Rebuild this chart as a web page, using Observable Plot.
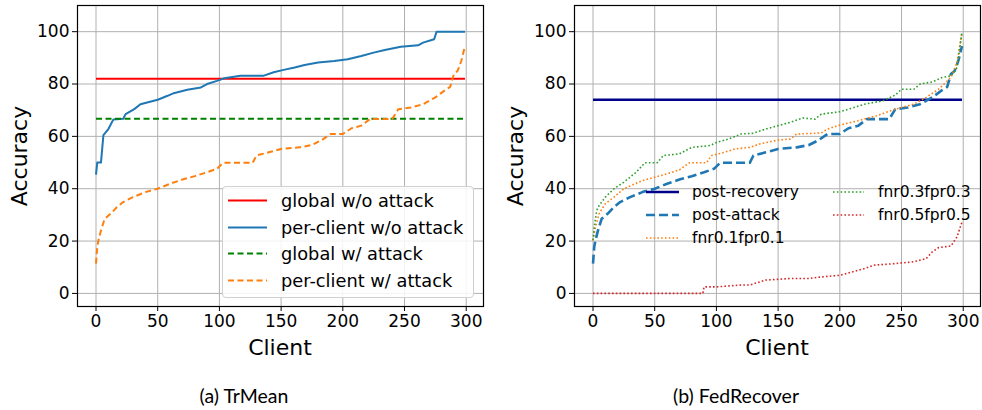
<!DOCTYPE html>
<html>
<head>
<meta charset="utf-8">
<script src="https://cdn.jsdelivr.net/npm/d3@7"></script>
<script src="https://cdn.jsdelivr.net/npm/@observablehq/plot@0.6"></script>
<style>
  html, body { margin: 0; padding: 0; background: #fff; }
  #root { position: relative; width: 982px; height: 410px; overflow: hidden; font-family: "DejaVu Sans", sans-serif; }
  .panel { position: absolute; top: 0; }
  .lbl { position: absolute; font-family: "DejaVu Sans", sans-serif; font-size: 22px; color: #000; white-space: nowrap; }
  .ylbl { transform: translate(-50%, -50%) rotate(-90deg); }
  .xlbl { transform: translate(-50%, -50%); }
  .cap { position: absolute; font-family: "Lato", sans-serif; font-size: 19.5px; transform: translate(-50%, -50%); white-space: nowrap; }
  .legbox { position: absolute; border: 1px solid #d0d0d0; border-radius: 4px; background: rgba(255,255,255,0.85); }
  .leg { position: absolute; font-family: "DejaVu Sans", sans-serif; white-space: nowrap; transform: translateY(-50%); display: flex; align-items: center; }
  .leg svg { display: block; }
</style>
</head>
<body>
<div id="root"></div>
<script>
// ---------- data ----------
const xTicks = [0, 50, 100, 150, 200, 250, 300];
const yTicks = [0, 20, 40, 60, 80, 100];
const clientFirst = 0, clientLast = 299;

// (a) TrMean
const globalNoAttack = 82;
const globalWithAttack = 66.7;
const perClientNoAttack = [
  [0,45.4],[1,50],[4,50],[6,60.5],[10,62.8],[14,66.4],[22,66.7],[24,68.5],[31,70.4],[36,72.3],
  [50,74],[58,75.5],[63,76.5],[74,77.8],[85,78.7],[90,80],[98,81.2],[104,82.2],[117,83.2],[136,83.2],
  [144,84.5],[152,85.4],[161,86.3],[169,87.3],[180,88.2],[193,88.8],[204,89.5],[215,90.7],[225,92],
  [234,93],[247,94.2],[261,94.8],[265,95.8],[274,97.1],[276,100],[299,100]
];
const perClientWithAttack = [
  [0,11.4],[1,17.8],[2,20.3],[4,24],[7,28.5],[12,30.5],[17,33],[22,34.9],[30,36.8],[40,38.7],
  [50,40],[60,41.9],[70,43.5],[80,44.8],[90,46.3],[98,47.6],[103,49.9],[127,49.9],[130,52.7],
  [140,53.9],[150,55.2],[165,55.8],[175,56.7],[183,58.6],[190,60.9],[200,60.9],[207,63.1],
  [215,64.1],[222,66.6],[240,66.6],[245,70.4],[255,71],[265,72.3],[275,74.9],[283,77.7],
  [287,78.9],[290,83.8],[293,85],[296,88.8],[299,94.5]
];

// (b) FedRecover
const postRecovery = 74;
const postAttack = perClientWithAttack;
const fnr01 = [
  [0,20.3],[2,25.4],[5,30.5],[10,34.3],[17,36.8],[25,40],[40,43.1],[50,44.4],[60,45.7],[70,47.2],
  [78,49.9],[92,49.9],[96,52.7],[105,53.7],[115,55.2],[127,55.8],[135,57.1],[150,58.6],[160,59],
  [165,60.9],[185,61.3],[190,62.8],[200,64.3],[215,66],[230,67.9],[245,70.4],[260,72.3],[270,74.9],
  [280,78],[290,82.5],[295,88.2],[299,99.6]
];
const fnr03 = [
  [0,20.3],[1,25.4],[3,31.7],[5,33.6],[10,36.8],[17,40],[25,42.5],[35,46.3],[42,49.9],[52,49.9],
  [57,52.7],[70,53.3],[80,55.8],[95,56.5],[100,57.7],[110,59],[120,60.9],[130,61.2],[140,62.8],
  [150,64.1],[160,65.4],[170,67],[180,66.6],[185,68.5],[200,69.4],[210,70.8],[220,72.3],[235,73.6],
  [245,75.8],[250,78],[260,78],[265,80],[275,80.8],[283,82.5],[290,83.1],[295,86.3],[299,100]
];
const fnr05 = [
  [0,0],[89,0],[90,2.5],[100,2.5],[120,3.2],[127,3.2],[140,5.1],[160,5.7],[175,5.7],[185,6.3],
  [200,6.9],[210,8.2],[220,9.5],[228,10.8],[245,11.4],[260,12.1],[270,13.3],[275,15.9],[280,17.5],
  [290,18.1],[295,21.6],[299,27.3]
];

const seriesA = [
  {name: "global w/o attack", color: "#ff0000", dash: null, width: 2, hline: globalNoAttack},
  {name: "per-client w/o attack", color: "#1f77b4", dash: null, width: 2, pts: perClientNoAttack},
  {name: "global w/ attack", color: "#008000", dash: "6,3.5", width: 2, hline: globalWithAttack},
  {name: "per-client w/ attack", color: "#ff7f0e", dash: "6,3.5", width: 2, pts: perClientWithAttack}
];
const seriesB = [
  {name: "post-recovery", color: "#00008b", dash: null, width: 2.6, hline: postRecovery},
  {name: "post-attack", color: "#1f77b4", dash: "9,4", width: 2.6, pts: postAttack},
  {name: "fnr0.1fpr0.1", color: "#ff7f0e", dash: "1.6,2.2", width: 1.6, pts: fnr01},
  {name: "fnr0.3fpr0.3", color: "#2ca02c", dash: "1.6,2.2", width: 1.6, pts: fnr03},
  {name: "fnr0.5fpr0.5", color: "#d62728", dash: "1.6,2.2", width: 1.6, pts: fnr05}
];

// ---------- drawing ----------
function lineMarks(series) {
  return series.map(s => {
    const data = s.hline !== undefined
      ? [[clientFirst, s.hline], [clientLast, s.hline]]
      : s.pts;
    return Plot.line(data, {
      x: d => d[0], y: d => d[1], stroke: s.color, strokeWidth: s.width,
      strokeDasharray: s.dash || undefined, strokeLinecap: "butt", strokeLinejoin: "round"
    });
  });
}

function panel(series, marginLeft, marginRight) {
  return Plot.plot({
    width: 491, height: 365,
    marginTop: 5, marginBottom: 59, marginLeft, marginRight,
    style: {fontFamily: "DejaVu Sans, sans-serif", fontSize: "17px", color: "#000", background: "transparent", overflow: "visible"},
    x: {domain: [-15, 314]},
    y: {domain: [-5, 110]},
    marks: [
      Plot.gridX(xTicks, {stroke: "#b0b0b0", strokeOpacity: 1, strokeWidth: 1}),
      Plot.gridY(yTicks, {stroke: "#b0b0b0", strokeOpacity: 1, strokeWidth: 1}),
      ...lineMarks(series),
      Plot.frame({stroke: "#000", strokeWidth: 1.2}),
      Plot.axisX(xTicks, {tickSize: 5, tickPadding: 3, label: null, fontSize: 17}),
      Plot.axisY(yTicks, {tickSize: 5, tickPadding: 3, label: null, fontSize: 17})
    ]
  });
}

const root = document.getElementById("root");

function addPanel(left, series, ml, mr) {
  const d = document.createElement("div");
  d.className = "panel";
  d.style.left = left + "px";
  d.appendChild(panel(series, ml, mr));
  root.appendChild(d);
}
addPanel(0, seriesA, 77, 8);
addPanel(491, seriesB, 83, 2);

function addText(cls, text, x, y) {
  const e = document.createElement("div");
  e.className = cls;
  e.textContent = text;
  e.style.left = x + "px";
  e.style.top = y + "px";
  root.appendChild(e);
}
addText("lbl ylbl", "Accuracy", 19, 156);
addText("lbl ylbl", "Accuracy", 515, 156);
addText("lbl xlbl", "Client", 280, 347);
addText("lbl xlbl", "Client", 777, 347);
addText("cap", "(a) TrMean", 244, 395);
addText("cap", "(b) FedRecover", 736, 395);

function sample(s, len) {
  const svgNS = "http://www.w3.org/2000/svg";
  const svg = document.createElementNS(svgNS, "svg");
  svg.setAttribute("width", len); svg.setAttribute("height", 8);
  const l = document.createElementNS(svgNS, "line");
  l.setAttribute("x1", 0); l.setAttribute("x2", len);
  l.setAttribute("y1", 4); l.setAttribute("y2", 4);
  l.setAttribute("stroke", s.color); l.setAttribute("stroke-width", s.width);
  if (s.dash) l.setAttribute("stroke-dasharray", s.dash);
  svg.appendChild(l);
  return svg;
}
function addLegendItem(s, x, y, len, gap, fs) {
  const e = document.createElement("div");
  e.className = "leg";
  e.style.left = x + "px"; e.style.top = y + "px"; e.style.fontSize = fs + "px";
  const sv = sample(s, len);
  sv.style.marginRight = gap + "px";
  e.appendChild(sv);
  const t = document.createElement("span");
  t.textContent = s.name;
  e.appendChild(t);
  root.appendChild(e);
}
// legend (a)
const box = document.createElement("div");
box.className = "legbox";
Object.assign(box.style, {left: "222px", top: "186px", width: "250px", height: "110px"});
root.appendChild(box);
const rowsA = [200, 227, 253, 280];
seriesA.forEach((s, i) => addLegendItem(s, 228, rowsA[i], 39, 14, 17.8));
// legend (b)
const rowsB = [192, 215, 238];
seriesB.slice(0, 3).forEach((s, i) => addLegendItem(s, 646, rowsB[i], 33, 13, 15.5));
seriesB.slice(3).forEach((s, i) => addLegendItem(s, 833, rowsB[i], 31, 14, 15.5));
</script>
</body>
</html>
